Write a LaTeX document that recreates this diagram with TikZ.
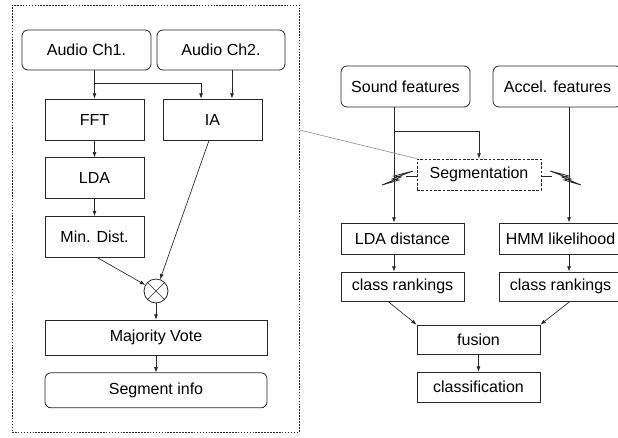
\documentclass[tikz,border=0pt]{standalone}
\usepackage{fontspec}
\setmainfont{Liberation Sans}
\usepackage{tikz}
\usetikzlibrary{arrows.meta, positioning, calc}
\usepackage{xcolor}
\definecolor{Frame}{RGB}{40, 40, 40}
\definecolor{Guide}{RGB}{150, 150, 150}

\begin{document}
\begin{tikzpicture}[
      x=0.75pt, y=-0.75pt,
      node distance=12.75pt,
      box/.style={draw=Frame, line width=0.6pt, minimum width=74.25pt,
                  minimum height=30.75pt, align=center, inner sep=1pt,
                  font=\fontsize{12}{14}\selectfont},
      rbox/.style={box, rounded corners=4.5pt},
      sbox/.style={box, minimum width=92.25pt, minimum height=22.5pt},
      arr/.style={-{Latex[length=4pt, width=3pt]}, line width=0.5pt, Frame},
      ln/.style={line width=0.5pt, Frame},
      bolt/.style={line width=0.6pt, Frame, line join=miter}
    ]
      \clip (0,0) rectangle (618,437);

      % zoomed detail of the segmentation step
      \node[draw=Frame, line width=0.6pt, dash pattern=on 1.2pt off 1pt,
            minimum width=215.25pt, minimum height=320.25pt] (detail) at (155.5,218.5) {};

      \node[rbox, minimum width=96.75pt, minimum height=30pt] (audioa) at (86.5,50) {Audio Ch1.};
      \node[rbox, minimum width=96pt, minimum height=30pt] (audiob) at (221,50) {Audio Ch2.};
      \node[box] (fft) at (94.5,119.5) {FFT};
      \node[box] (ia) at (212.5,119.5) {IA};
      \node[box, below=of fft] (lda) {LDA};
      \node[box, below=of lda] (mindist) {Min. Dist.};
      \node[draw=Frame, line width=0.6pt, circle, minimum size=18pt, inner sep=0pt,
            path picture={\draw[ln] (path picture bounding box.north west) -- (path picture bounding box.south east)
                                    (path picture bounding box.south west) -- (path picture bounding box.north east);}]
            (mult) at (156,291) {};
      \node[box, minimum width=166.5pt, minimum height=26.25pt] (vote) at (156,337.5) {Majority Vote};
      \node[rbox, minimum width=166.5pt, minimum height=26.25pt, below=12.75pt of vote] (seginfo) {Segment info};

      \coordinate (splita) at (94.5,83);
      \draw[arr] (fft.north |- audioa.south) -- (fft.north);
      \draw[arr] (splita) -| ([xshift=-8.6pt]ia.north);
      \draw[arr] ([xshift=14.6pt]ia.north |- audiob.south) -- ([xshift=14.6pt]ia.north);
      \draw[arr] (fft) -- (lda);
      \draw[arr] (lda) -- (mindist);
      \draw[arr] ([xshift=2.6pt]mindist.south) -- (mult);
      \draw[arr] ([xshift=-2.6pt]ia.south) -- (mult);
      \draw[arr] (mult) -- (vote);
      \draw[arr] (vote) -- (seginfo);

      % classification pipeline
      \node[rbox, minimum width=96.75pt] (sound) at (405.5,86.5) {Sound features};
      \node[rbox, minimum width=96.75pt] (accel) at (557.5,86.5) {Accel. features};
      \node[box, minimum width=93pt, minimum height=23.25pt, dash pattern=on 2pt off 1.2pt]
            (segm) at (479,174.5) {Segmentation};
      \node[sbox, minimum height=23.25pt] (ldadist) at (402.5,238.5) {LDA distance};
      \node[sbox, minimum height=23.25pt] (hmm) at (560.5,238.5) {HMM likelihood};
      \node[sbox, minimum height=21.75pt] (rankl) at (402.5,286.5) {class rankings};
      \node[sbox, minimum height=21.75pt] (rankr) at (560.5,286.5) {class rankings};
      \node[sbox, minimum height=21.75pt] (fusion) at (478.5,339.5) {fusion};
      \node[sbox, below=13pt of fusion] (classif) {classification};

      \coordinate (splitb) at (394,131);
      \draw[arr] ([xshift=-6.4pt]ldadist.north |- sound.south) -- ([xshift=-6.4pt]ldadist.north);
      \draw[arr] (splitb) -| (segm.north);
      \draw[arr] ([xshift=6.4pt]hmm.north |- accel.south) -- ([xshift=6.4pt]hmm.north);
      \draw[arr] ([xshift=-6.4pt]ldadist.south) -- ([xshift=-6.4pt]rankl.north);
      \draw[arr] ([xshift=6.4pt]hmm.south) -- ([xshift=6.4pt]rankr.north);
      \draw[arr] ([xshift=-10.9pt]rankl.south) -- (fusion.north west);
      \draw[arr] ([xshift=7.1pt]rankr.south) -- (fusion.north east);
      \draw[arr] (fusion) -- (classif);

      % segmentation triggers
      \coordinate (boltl) at (394,178);
      \coordinate (boltr) at (569,178);
      \draw[ln] (segm.west |- 0,176) -- ++(-11,0);
      \draw[ln] (segm.east |- 0,176) -- ++(11,0);
      \draw[bolt, shift={(boltl)}] (19,-7) -- (0,-2) -- (7,-1) -- (-12,7) -- (5,2) -- (-2,1) -- cycle;
      \draw[bolt, shift={(boltr)}, xscale=-1] (19,-7) -- (0,-2) -- (7,-1) -- (-12,7) -- (5,2) -- (-2,1) -- cycle;

      % link from detail box
      \draw[Guide, line width=0.5pt] ($(detail.north east)!0.293!(detail.south east)$) -- (segm.north west);
    \end{tikzpicture}
\end{document}
